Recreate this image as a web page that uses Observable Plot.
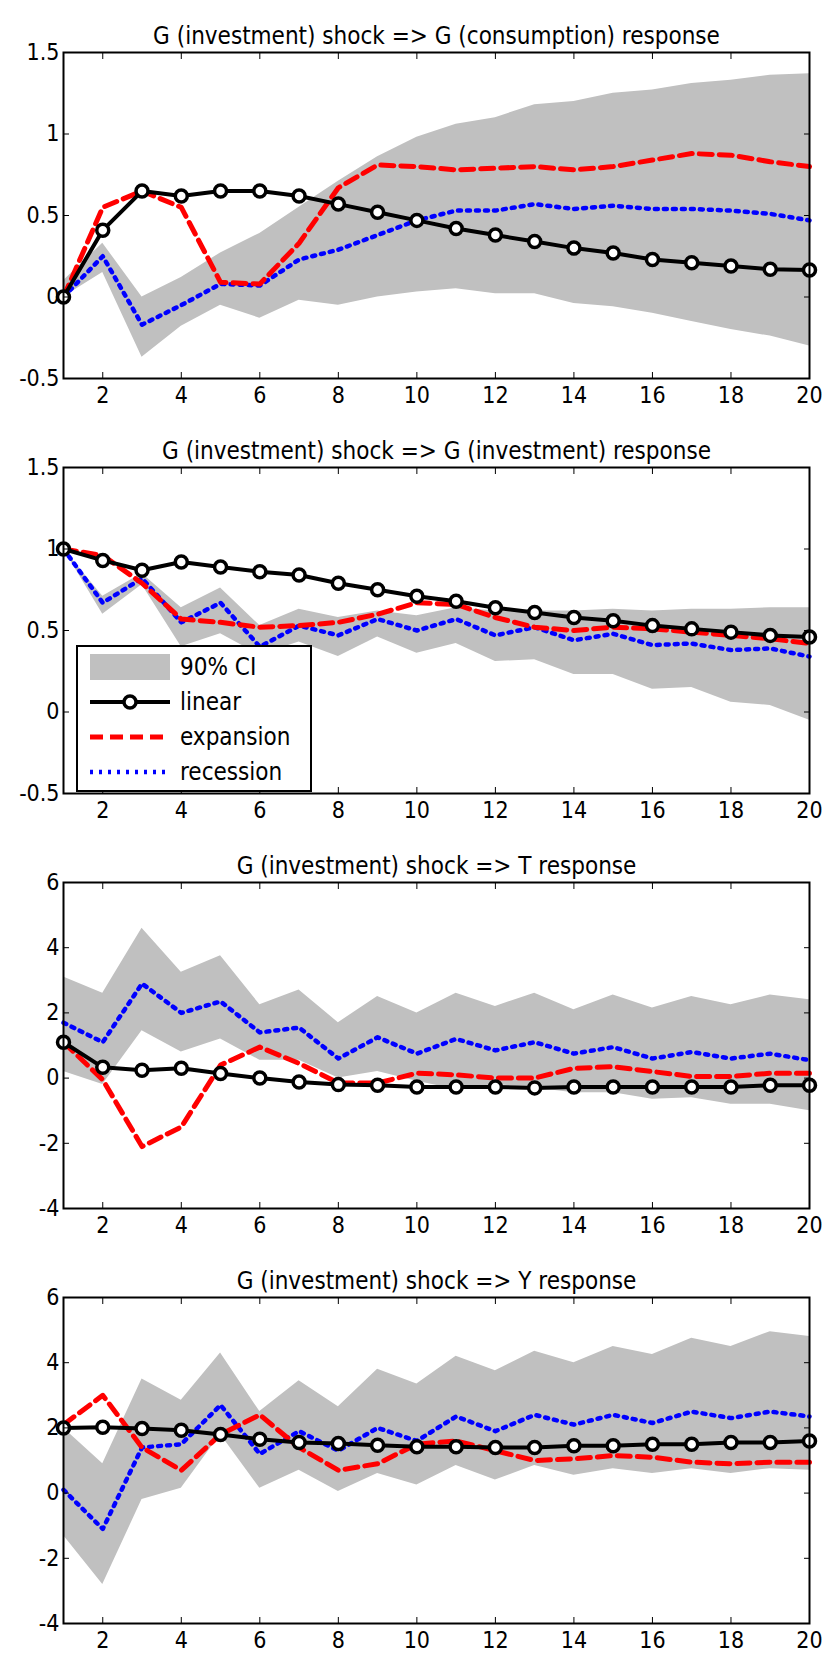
<!DOCTYPE html>
<html>
<head>
<meta charset="utf-8">
<script src="https://cdn.jsdelivr.net/npm/d3@7"></script>
<script src="https://cdn.jsdelivr.net/npm/@observablehq/plot@0.6"></script>
<style>
  body { margin: 0; background: #fff; font-family: "Liberation Sans Narrow", "DejaVu Sans Condensed", "Liberation Sans", sans-serif; }
  .panel { position: relative; width: 823px; height: 415px; }
  .panel svg g[aria-label$="tick label"], .panel svg g[aria-label$="tick label"] text { font-size: 23px !important; }
  .legend { position: absolute; left: 76px; top: 230px; width: 232px; height: 143px; border: 2px solid #000; background: #fff; font-size: 24px; }
  .legend .row { position: absolute; left: 12px; height: 34px; display: flex; align-items: center; }
  .legend svg { margin-right: 8px; }
</style>
</head>
<body>
<div id="chart"></div>
<script>
const horizons = d3.range(1, 21)

// panel 1: G (consumption) response
const p1_linear = [0, 0.41, 0.65, 0.62, 0.65, 0.65, 0.62, 0.57, 0.52, 0.47, 0.42, 0.38, 0.34, 0.30, 0.27, 0.23, 0.21, 0.19, 0.17, 0.165]
const p1_expansion = [0, 0.55, 0.65, 0.55, 0.09, 0.08, 0.33, 0.67, 0.81, 0.80, 0.78, 0.79, 0.80, 0.78, 0.80, 0.84, 0.88, 0.87, 0.83, 0.80]
const p1_recession = [0, 0.25, -0.17, -0.05, 0.08, 0.07, 0.23, 0.29, 0.38, 0.47, 0.53, 0.53, 0.57, 0.54, 0.56, 0.54, 0.54, 0.53, 0.51, 0.47]
const p1_hi = [0.1, 0.33, 0.0, 0.12, 0.27, 0.39, 0.55, 0.71, 0.86, 0.98, 1.06, 1.10, 1.18, 1.20, 1.25, 1.27, 1.31, 1.33, 1.36, 1.37]
const p1_lo = [0.0, 0.15, -0.37, -0.18, -0.05, -0.13, -0.02, -0.05, 0.0, 0.03, 0.05, 0.02, 0.02, -0.04, -0.06, -0.10, -0.15, -0.20, -0.24, -0.30]

// panel 2: G (investment) response
const p2_linear = [1, 0.93, 0.87, 0.92, 0.89, 0.86, 0.84, 0.79, 0.75, 0.71, 0.68, 0.64, 0.61, 0.58, 0.56, 0.53, 0.51, 0.49, 0.47, 0.46]
const p2_expansion = [1, 0.96, 0.79, 0.57, 0.55, 0.52, 0.53, 0.55, 0.60, 0.67, 0.66, 0.58, 0.52, 0.50, 0.52, 0.51, 0.49, 0.47, 0.45, 0.42]
const p2_recession = [1, 0.67, 0.82, 0.55, 0.67, 0.40, 0.53, 0.47, 0.57, 0.50, 0.57, 0.47, 0.52, 0.44, 0.48, 0.41, 0.42, 0.38, 0.39, 0.34]
const p2_hi = [1.0, 0.71, 0.85, 0.64, 0.76, 0.53, 0.63, 0.58, 0.62, 0.59, 0.64, 0.62, 0.62, 0.62, 0.63, 0.62, 0.63, 0.63, 0.64, 0.64]
const p2_lo = [1.0, 0.60, 0.78, 0.40, 0.48, 0.35, 0.43, 0.34, 0.46, 0.36, 0.42, 0.31, 0.32, 0.23, 0.23, 0.14, 0.15, 0.06, 0.04, -0.05]

// panel 3: T response
const p3_linear = [1.1, 0.33, 0.24, 0.3, 0.14, 0.0, -0.12, -0.2, -0.22, -0.27, -0.27, -0.27, -0.3, -0.27, -0.27, -0.27, -0.27, -0.27, -0.22, -0.22]
const p3_expansion = [1.1, -0.05, -2.1, -1.5, 0.4, 0.95, 0.45, -0.15, -0.15, 0.15, 0.1, 0.0, 0.0, 0.3, 0.35, 0.2, 0.05, 0.05, 0.15, 0.15]
const p3_recession = [1.7, 1.1, 2.9, 2.0, 2.35, 1.4, 1.55, 0.6, 1.25, 0.75, 1.2, 0.85, 1.1, 0.75, 0.95, 0.6, 0.8, 0.6, 0.75, 0.55]
const p3_hi = [3.1, 2.6, 4.6, 3.25, 3.75, 2.25, 2.7, 1.7, 2.5, 2.0, 2.6, 2.2, 2.6, 2.1, 2.55, 2.15, 2.5, 2.25, 2.55, 2.4]
const p3_lo = [0.2, -0.2, 1.45, 0.8, 1.2, 0.55, 0.55, 0.0, 0.2, -0.1, -0.35, -0.2, -0.3, -0.45, -0.45, -0.65, -0.6, -0.8, -0.8, -1.0]

// panel 4: Y response
const p4_linear = [2.0, 2.02, 1.98, 1.93, 1.8, 1.65, 1.55, 1.52, 1.47, 1.42, 1.42, 1.4, 1.4, 1.45, 1.45, 1.5, 1.5, 1.55, 1.55, 1.6]
const p4_expansion = [2.1, 3.0, 1.4, 0.7, 1.8, 2.4, 1.4, 0.7, 0.9, 1.5, 1.6, 1.3, 1.0, 1.05, 1.15, 1.1, 0.95, 0.9, 0.95, 0.95]
const p4_recession = [0.1, -1.1, 1.4, 1.5, 2.7, 1.2, 1.9, 1.3, 2.0, 1.6, 2.35, 1.9, 2.4, 2.1, 2.4, 2.15, 2.5, 2.3, 2.5, 2.35]
const p4_hi = [2.0, 0.9, 3.5, 2.85, 4.3, 2.5, 3.45, 2.65, 3.8, 3.35, 4.2, 3.75, 4.35, 4.0, 4.5, 4.25, 4.75, 4.5, 4.95, 4.8]
const p4_lo = [-1.3, -2.8, -0.2, 0.15, 1.8, 0.15, 0.7, 0.05, 0.6, 0.25, 0.85, 0.4, 0.85, 0.55, 0.75, 0.6, 0.75, 0.6, 0.75, 0.7]

const xTicks = [2, 4, 6, 8, 10, 12, 14, 16, 18, 20]
const yTicksSmall = [-0.5, 0, 0.5, 1, 1.5]
const yTicksBig = [-4, -2, 0, 2, 4, 6]

const panels = [
  {title: "G (investment) shock => G (consumption) response", lin: p1_linear, exp: p1_expansion, rec: p1_recession, hi: p1_hi, lo: p1_lo, yd: [-0.5, 1.5], yt: yTicksSmall},
  {title: "G (investment) shock => G (investment) response", lin: p2_linear, exp: p2_expansion, rec: p2_recession, hi: p2_hi, lo: p2_lo, yd: [-0.5, 1.5], yt: yTicksSmall, legend: true},
  {title: "G (investment) shock => T response", lin: p3_linear, exp: p3_expansion, rec: p3_recession, hi: p3_hi, lo: p3_lo, yd: [-4, 6], yt: yTicksBig},
  {title: "G (investment) shock => Y response", lin: p4_linear, exp: p4_expansion, rec: p4_recession, hi: p4_hi, lo: p4_lo, yd: [-4, 6], yt: yTicksBig}
]

const fmt = d => String(d)
const blank = () => ""
const font = '"Liberation Sans Narrow", "DejaVu Sans Condensed", "Liberation Sans", sans-serif'

panels.forEach(p => {
  const data = horizons.map((h, i) => ({h, lin: p.lin[i], exp: p.exp[i], rec: p.rec[i], hi: p.hi[i], lo: p.lo[i]}))
  const chart = Plot.plot({
    width: 823, height: 415,
    marginLeft: 63, marginRight: 14, marginTop: 52, marginBottom: 37,
    style: {fontFamily: font, color: "#000"},
    x: {domain: [1, 20]},
    y: {domain: p.yd},
    marks: [
      Plot.areaY(data, {x: "h", y1: "lo", y2: "hi", fill: "#c0c0c0"}),
      Plot.line(data, {x: "h", y: "rec", stroke: "#0000ff", strokeWidth: 4.5, strokeDasharray: "3,6"}),
      Plot.line(data, {x: "h", y: "exp", stroke: "#ff0000", strokeWidth: 5, strokeDasharray: "13,7"}),
      Plot.line(data, {x: "h", y: "lin", stroke: "#000", strokeWidth: 4}),
      Plot.dot(data, {x: "h", y: "lin", r: 6, fill: "#fff", stroke: "#000", strokeWidth: 3.5}),
      Plot.frame({stroke: "#000", strokeWidth: 2}),
      Plot.axisX({anchor: "bottom", ticks: xTicks, tickSize: -6, tickPadding: 14, tickFormat: fmt, label: null}),
      Plot.axisX({anchor: "top", ticks: xTicks, tickSize: -6, tickFormat: blank, label: null}),
      Plot.axisY({anchor: "left", ticks: p.yt, tickSize: -6, tickPadding: 10, tickFormat: fmt, label: null}),
      Plot.axisY({anchor: "right", ticks: p.yt, tickSize: -6, tickFormat: blank, label: null}),
      Plot.text([p.title], {frameAnchor: "top", dy: -26, fontSize: 24})
    ]
  })
  const div = d3.select('#chart').append('div').attr('class', 'panel')
  div.append(() => chart)
  if (p.legend) {
    const lg = div.append('div').attr('class', 'legend')
    const items = [
      {label: "90% CI", sw: '<rect x="0" y="3" width="80" height="26" fill="#c0c0c0"/>'},
      {label: "linear", sw: '<line x1="0" y1="16" x2="80" y2="16" stroke="#000" stroke-width="4"/><circle cx="40" cy="16" r="6" fill="#fff" stroke="#000" stroke-width="3.5"/>'},
      {label: "expansion", sw: '<line x1="0" y1="16" x2="80" y2="16" stroke="#f00" stroke-width="5" stroke-dasharray="13,7"/>'},
      {label: "recession", sw: '<line x1="0" y1="16" x2="80" y2="16" stroke="#00f" stroke-width="4.5" stroke-dasharray="3,6"/>'}
    ]
    items.forEach((it, i) => {
      lg.append('div').attr('class', 'row').style('top', (3 + i * 35) + 'px')
        .html(`<svg width="82" height="32">${it.sw}</svg><span>${it.label}</span>`)
    })
  }
})
</script>
</body>
</html>
